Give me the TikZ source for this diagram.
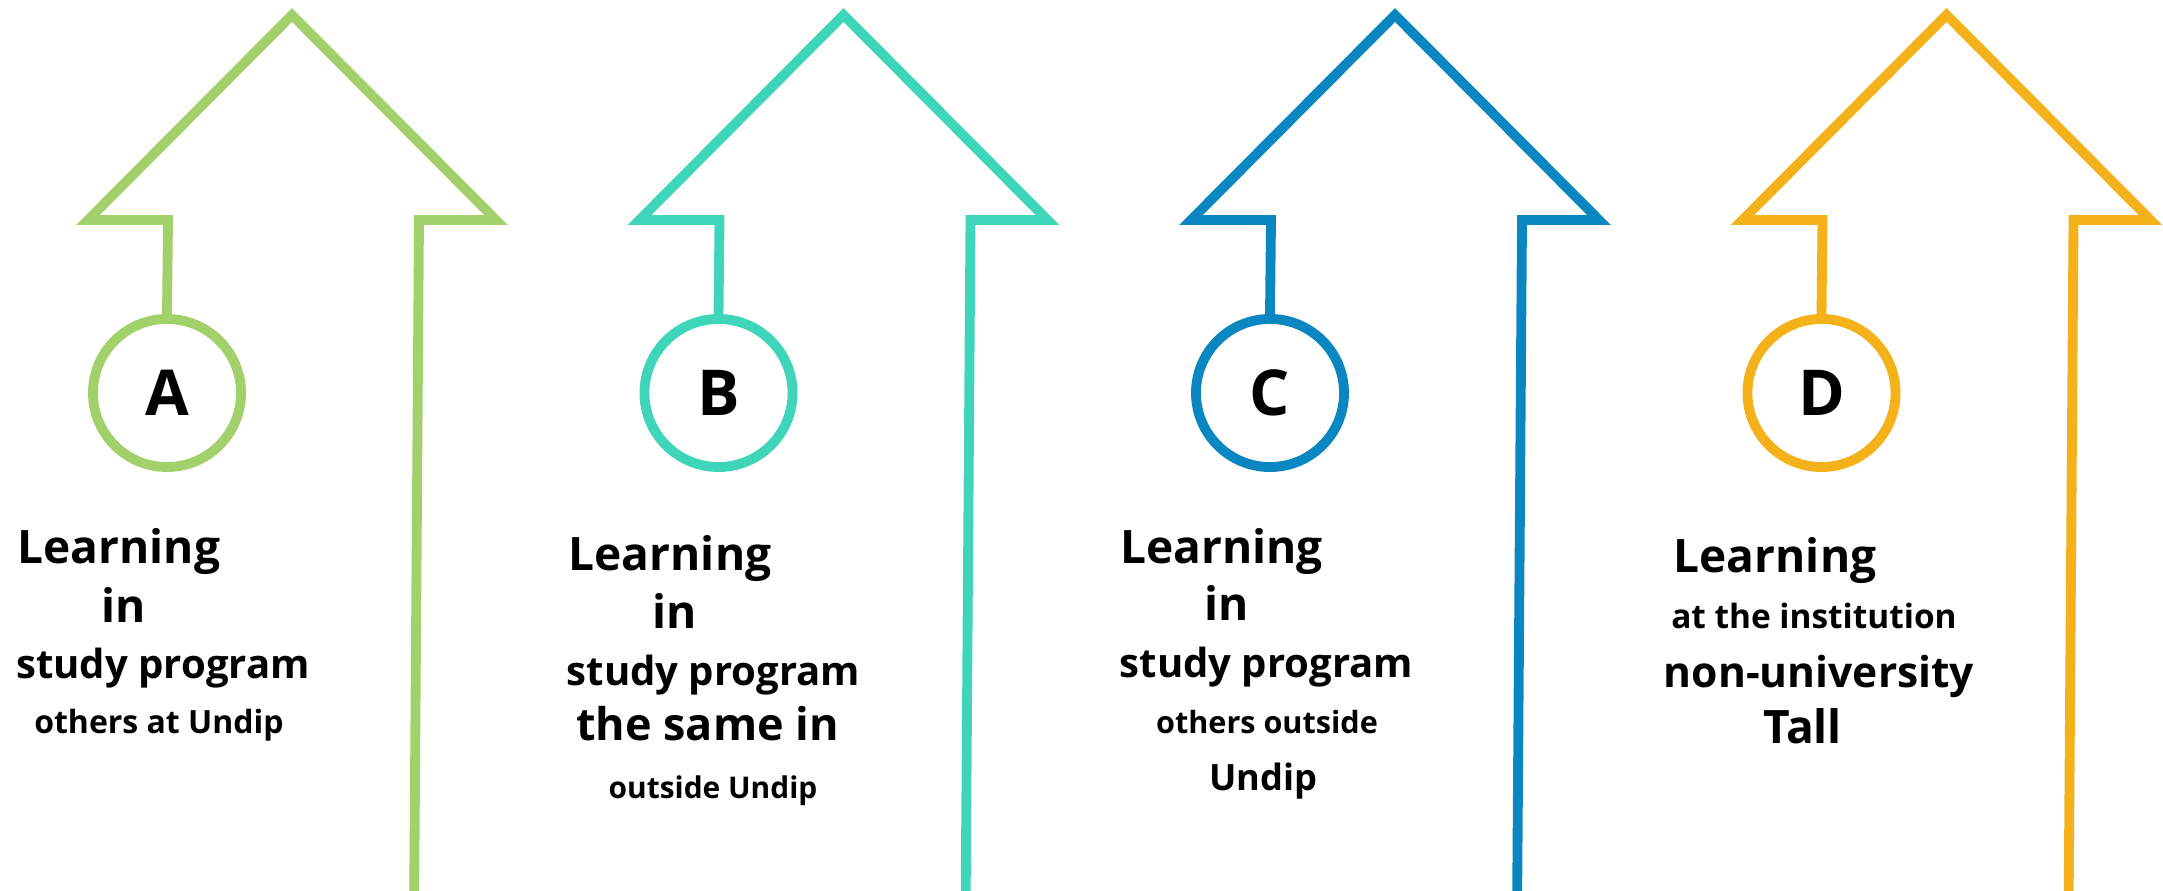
\documentclass[tikz,border=0pt]{standalone}
\usepackage{fontspec}
\setmainfont{Open Sans}
\definecolor{StepGreen}{HTML}{A2D16C}
\definecolor{StepTeal}{HTML}{3FD5BA}
\definecolor{StepBlue}{HTML}{0A87C1}
\definecolor{StepOrange}{HTML}{F5B11A}

\begin{document}
\begin{tikzpicture}[x=0.01cm, y=-0.01cm,
    outline/.style={line width=2.8pt, line join=miter},
    badge/.style={circle, draw, line width=2.8pt, fill=white, minimum size=1.48cm,
      inner sep=0pt, font=\bfseries\fontsize{18}{18}\selectfont},
    lbl/.style={anchor=base, inner sep=0pt, font=\bfseries\fontsize{#1}{#1}\selectfont}]
    \useasboundingbox (0,0) rectangle (2163,891);
    \clip (0,0) rectangle (2163,891);

    % Arrow tips (one column every 551.5 px)
    \coordinate (T1) at (292, 15);    % A
    \coordinate (T2) at (843.5, 15);  % B
    \coordinate (T3) at (1395, 15);   % C
    \coordinate (T4) at (1946.5, 15); % D

    % Badges hanging below the left shoulder of each arrow
    \node[badge, draw=StepGreen]  (badgeA) at (167, 393)    {A};
    \node[badge, draw=StepTeal]   (badgeB) at (718.5, 393)  {B};
    \node[badge, draw=StepBlue]   (badgeC) at (1270, 393)   {C};
    \node[badge, draw=StepOrange] (badgeD) at (1821.5, 393) {D};

    % Arrow outlines: badge -> left shoulder -> tip -> right shoulder -> shaft
    \draw[outline, StepGreen] (badgeA.north) -- ++(1,-94) -- ++(-80,0) -- (T1)
        -- ++(204,205) -- ++(-77,0) -- ++(-5,700);
    \draw[outline, StepTeal] (badgeB.north) -- ++(1,-94) -- ++(-80,0) -- (T2)
        -- ++(204,205) -- ++(-77,0) -- ++(-5,700);
    \draw[outline, StepBlue] (badgeC.north) -- ++(1,-94) -- ++(-80,0) -- (T3)
        -- ++(204,205) -- ++(-77,0) -- ++(-5,700);
    \draw[outline, StepOrange] (badgeD.north) -- ++(1,-94) -- ++(-80,0) -- (T4)
        -- ++(204,205) -- ++(-77,0) -- ++(-5,700);

    % Column A
    \node[lbl=13.1pt] (a1) at (119, 563)   {Learning};
    \node[lbl=13.1pt] (a2) at (123.5, 622) {in};
    \node[lbl=11.4pt] (a3) at (163, 678)   {study program};
    \node[lbl=9.1pt]  (a4) at (159, 733)   {others at Undip};

    % Column B
    \node[lbl=13.1pt] (b1) at (670, 570)   {Learning};
    \node[lbl=13.1pt] (b2) at (675, 628)   {in};
    \node[lbl=11.4pt] (b3) at (713.5, 685) {study program};
    \node[lbl=12.8pt] (b4) at (707.5, 740) {the same in};
    \node[lbl=8.5pt]  (b5) at (713, 798)   {outside Undip};

    % Column C
    \node[lbl=13.1pt] (c1) at (1221.5, 563) {Learning};
    \node[lbl=13.1pt] (c2) at (1227, 620)   {in};
    \node[lbl=11.4pt] (c3) at (1266.5, 677) {study program};
    \node[lbl=8.7pt]  (c4) at (1267, 733)   {others outside};
    \node[lbl=10.3pt] (c5) at (1263.5, 790) {Undip};

    % Column D
    \node[lbl=13.1pt] (d1) at (1775, 572)   {Learning};
    \node[lbl=9.5pt]  (d2) at (1814, 628)   {at the institution};
    \node[lbl=12.1pt] (d3) at (1819, 687)   {non-university};
    \node[lbl=13.1pt] (d4) at (1802.5, 743) {Tall};
\end{tikzpicture}
\end{document}
